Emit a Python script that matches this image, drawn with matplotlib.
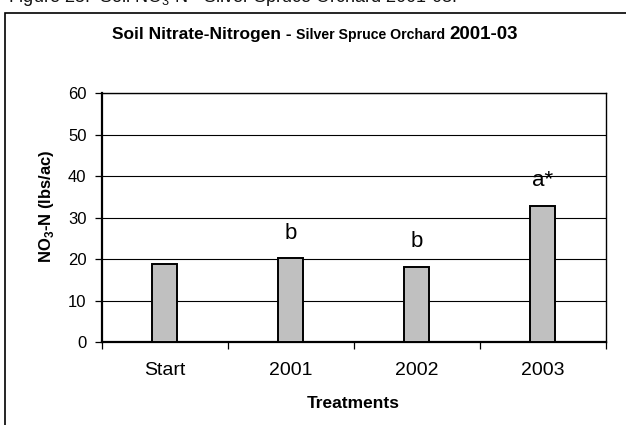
import matplotlib

matplotlib.use('Agg')
import matplotlib.pyplot as plt
from matplotlib.patches import Rectangle

plt.rcParams['font.family'] = ['Liberation Sans', 'DejaVu Sans']
plt.rcParams['mathtext.fontset'] = 'custom'
plt.rcParams['mathtext.rm'] = 'Liberation Sans'
plt.rcParams['mathtext.bf'] = 'Liberation Sans:bold'

# data
categories = ['Start', '2001', '2002', '2003']
no3_values = [18.8, 20.2, 18.1, 32.8]
letters = ['', 'b', 'b', 'a*']
y_ticks = [0, 10, 20, 30, 40, 50, 60]

W, H = 626, 425
fig = plt.figure(figsize=(W / 100, H / 100), dpi=100)

# outer chart frame (only left/top edges are visible in the crop)
fig.patches.append(Rectangle((5 / W, -0.1), 1.2, 1 - 13.5 / H + 0.1,
                             transform=fig.transFigure, fill=False,
                             edgecolor='black', linewidth=1.2))
# figure caption, cut off by the top edge
fig.text(8 / W, 1 - 2.5 / H, 'Figure 25.  Soil NO$_3$-N - Silver Spruce Orchard 2001-03.',
         fontsize=13, ha='left', va='baseline', color='#111111')

ax = fig.add_axes([101.7 / W, 1 - 342.3 / H, 504 / W, 249 / H])

x = range(len(categories))
ax.bar(x, no3_values, width=0.2, color='#c0c0c0', edgecolor='black', linewidth=1.4, zorder=3)

for i, (v, lab) in enumerate(zip(no3_values, letters)):
    if lab:
        ax.text(i, v + 4.8, lab, ha='center', va='baseline', fontsize=16)

ax.set_xlim(-0.5, len(categories) - 0.5)
ax.set_ylim(0, 60)
ax.set_yticks(y_ticks)
ax.yaxis.grid(True, color='black', linewidth=0.8)
ax.set_axisbelow(True)

ax.set_xticks(list(x))
ax.set_xticklabels(categories, fontsize=14)
ax.set_xticks([i - 0.5 for i in range(len(categories) + 1)], minor=True)
ax.tick_params(axis='x', which='major', length=0, pad=14)
ax.tick_params(axis='x', which='minor', length=5, width=0.9, direction='out')
ax.tick_params(axis='y', length=5, width=0.9, labelsize=12, pad=6)

for s in ax.spines.values():
    s.set_linewidth(1.0)
ax.spines['left'].set_linewidth(1.6)
ax.spines['bottom'].set_linewidth(1.6)

# axis titles
fig.text(47 / W, 1 - 206 / H, r'NO$_\mathbf{3}$-N (lbs/ac)', fontsize=12, fontweight='bold',
         rotation=90, ha='center', va='center')
fig.text(353 / W, 1 - 408 / H, 'Treatments', fontsize=12.5, fontweight='bold',
         ha='center', va='baseline')

# mixed-size chart title
ty = 1 - 39 / H
t1 = fig.text(112 / W, ty, 'Soil Nitrate-Nitrogen - ', fontsize=12.5, fontweight='bold', va='baseline')
fig.canvas.draw()
bb = t1.get_window_extent()
t2 = fig.text(bb.x1 / W, ty, 'Silver Spruce Orchard ', fontsize=10.2, fontweight='bold', va='baseline')
fig.canvas.draw()
bb2 = t2.get_window_extent()
fig.text(bb2.x1 / W, ty, '2001-03', fontsize=13.5, fontweight='bold', va='baseline')

fig.savefig('out.png', dpi=100)
